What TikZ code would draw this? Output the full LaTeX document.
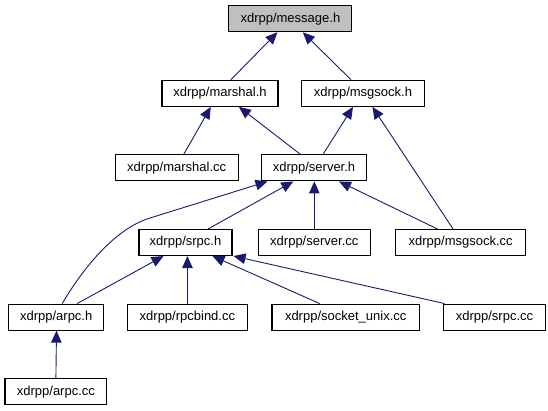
\documentclass[tikz,border=0pt]{standalone}
\usepackage{fontspec}
\setmainfont{Liberation Sans}
\usetikzlibrary{arrows.meta}
\definecolor{edgeblue}{RGB}{25,25,112}
\definecolor{rootgray}{RGB}{191,191,191}
\tikzset{
  box/.style={draw=black, line width=1.1pt, fill=white, minimum height=26pt, inner sep=0pt,
    font=\fontsize{13}{15}\selectfont},
  edge/.style={draw=edgeblue, line width=0.9pt, -{Triangle[length=12pt,width=10.5pt]}},
}
\begin{document}
\begin{tikzpicture}[x=1pt,y=-1pt]
\useasboundingbox (0,0) rectangle (548,411);
% nodes
\node[box, fill=rootgray, minimum width=123pt] (message) at (290.4,18.7) {xdrpp/message.h};
\node[box, minimum width=116pt] (marshalh) at (220,93.3) {xdrpp/marshal.h};
\node[box, minimum width=123.7pt] (msgsockh) at (362.9,93.3) {xdrpp/msgsock.h};
\node[box, minimum width=123pt] (marshalcc) at (176.7,167.9) {xdrpp/marshal.cc};
\node[box, minimum width=105.7pt] (serverh) at (314,167.9) {xdrpp/server.h};
\node[box, minimum width=93pt] (srpch) at (185.5,242.5) {xdrpp/srpc.h};
\node[box, minimum width=112.5pt] (servercc) at (314.3,242.5) {xdrpp/server.cc};
\node[box, minimum width=130.3pt] (msgsockcc) at (460.7,242.5) {xdrpp/msgsock.cc};
\node[box, minimum width=94.8pt] (arpch) at (56.2,317.1) {xdrpp/arpc.h};
\node[box, minimum width=119.8pt] (rpcbindcc) at (187.4,317.1) {xdrpp/rpcbind.cc};
\node[box, minimum width=147.5pt] (socketunix) at (345.7,317.1) {xdrpp/socket\_unix.cc};
\node[box, minimum width=102.3pt] (srpccc) at (494.5,317.1) {xdrpp/srpc.cc};
\node[box, minimum width=101.9pt] (arpccc) at (55.9,391.7) {xdrpp/arpc.cc};
\coordinate (bend) at (150,218);
% edges
\draw[edge] ([xshift=10.8pt]marshalh.north) -- ([xshift=-12.9pt]message.south);
\draw[edge] ([xshift=-11.9pt]msgsockh.north) -- ([xshift=12.4pt]message.south);
\draw[edge] ([xshift=7pt]marshalcc.north) -- ([xshift=-9.2pt]marshalh.south);
\draw[edge] ([xshift=-13.6pt]serverh.north) -- ([xshift=18.9pt]marshalh.south);
\draw[edge] ([xshift=9pt]serverh.north) -- ([xshift=-9.9pt]msgsockh.south);
\draw[edge] ([xshift=-7.7pt]msgsockcc.north) -- ([xshift=9.5pt]msgsockh.south);
\draw[edge] ([xshift=22.6pt]srpch.north) -- ([xshift=-20.7pt]serverh.south);
\draw[edge] (servercc.north) -- ([xshift=0.3pt]serverh.south);
\draw[edge] ([xshift=-23.3pt]msgsockcc.north) -- ([xshift=25pt]serverh.south);
\draw[edge] ([xshift=6pt]arpch.north) .. controls (85,265) and (116.5,228.3) .. (bend) -- ([xshift=-46.5pt]serverh.south);
\draw[edge] ([xshift=21pt]arpch.north) -- ([xshift=-22pt]srpch.south);
\draw[edge] (rpcbindcc.north) -- ([xshift=1.9pt]srpch.south);
\draw[edge] ([xshift=-26pt]socketunix.north) -- ([xshift=27pt]srpch.south);
\draw[edge] ([xshift=-50pt]srpccc.north) -- ([xshift=48pt]srpch.south);
\draw[edge] (arpccc.north) -- ([xshift=0.3pt]arpch.south);
\end{tikzpicture}
\end{document}
